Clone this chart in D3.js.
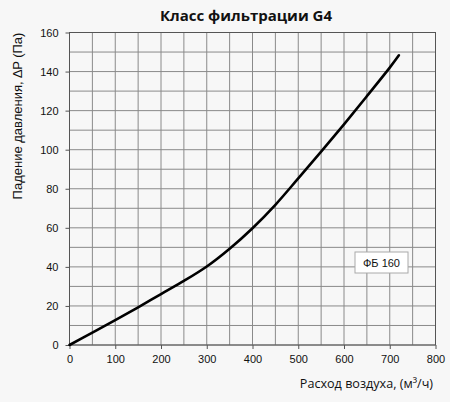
<!DOCTYPE html>
<html><head><meta charset="utf-8">
<script src="https://cdn.jsdelivr.net/npm/d3@7"></script>
<style>body{margin:0;background:#f7f7f7;}svg{display:block;}</style>
</head><body>
<script>
const flow = [0, 50, 100, 150, 200, 250, 300, 350, 400, 450, 500, 550, 600, 650, 700, 720];
const pressure = [0, 6.3, 12.7, 19.3, 26.1, 32.8, 40.2, 49.3, 59.8, 71.8, 85.3, 99, 113, 127.4, 142, 148.3];
const xTicks = [0, 100, 200, 300, 400, 500, 600, 700, 800];
const yTicks = [0, 20, 40, 60, 80, 100, 120, 140, 160];
const xGrid = d3.range(0, 801, 50);
const yGrid = d3.range(0, 161, 10);
const title = "Класс фильтрации G4";
const xTitle = "Расход воздуха, (м³/ч)";
const yTitle = "Падение давления, ∆P (Па)";
const legendLabel = "ФБ 160";

const W = 450, H = 402;
const m = {left: 69.5, right: 435.5, top: 32.5, bottom: 345};
const svg = d3.select("body").append("svg").attr("width", W).attr("height", H);
svg.append("rect").attr("width", W).attr("height", H).attr("fill", "#f7f7f7");

const x = d3.scaleLinear().domain([0, 800]).range([m.left, m.right]);
const y = d3.scaleLinear().domain([0, 160]).range([m.bottom, m.top]);

const g = svg.append("g");
g.selectAll(".vg").data(xGrid).join("line")
  .attr("x1", d => x(d)).attr("x2", d => x(d)).attr("y1", m.top).attr("y2", m.bottom)
  .attr("stroke", "#8a8a8a").attr("stroke-width", 1);
g.selectAll(".hg").data(yGrid).join("line")
  .attr("y1", d => y(d)).attr("y2", d => y(d)).attr("x1", m.left).attr("x2", m.right)
  .attr("stroke", "#8a8a8a").attr("stroke-width", 1);
g.append("rect").attr("x", m.left).attr("y", m.top).attr("width", m.right - m.left).attr("height", m.bottom - m.top)
  .attr("fill", "none").attr("stroke", "#555").attr("stroke-width", 1);

const xAxis = svg.append("g").attr("transform", `translate(0,${m.bottom})`)
  .call(d3.axisBottom(x).tickValues(xTicks).tickSize(4).tickPadding(6).tickFormat(d3.format("d")));
const yAxis = svg.append("g").attr("transform", `translate(${m.left},0)`)
  .call(d3.axisLeft(y).tickValues(yTicks).tickSize(4).tickPadding(7).tickFormat(d3.format("d")));
[xAxis, yAxis].forEach(a => {
  a.select(".domain").remove();
  a.selectAll("line").attr("stroke", "#555");
  a.selectAll("text").attr("fill", "#111").style("font-family", "Liberation Sans, Arial, sans-serif").style("font-size", "11px");
});

const line = d3.line().x((d, i) => x(flow[i])).y(d => y(d)).curve(d3.curveCatmullRom.alpha(0.5));
svg.append("path").datum(pressure).attr("d", line)
  .attr("fill", "none").attr("stroke", "#000").attr("stroke-width", 2.6).attr("stroke-linecap", "round");

svg.append("text").attr("x", 246).attr("y", 21).attr("text-anchor", "middle")
  .style("font-family", "Open Sans, sans-serif").style("font-weight", "bold").style("font-size", "15px")
  .attr("fill", "#111").text(title);
svg.append("text").attr("x", 433).attr("y", 388).attr("text-anchor", "end")
  .style("font-family", "Open Sans, sans-serif").style("font-size", "12.6px").attr("fill", "#111").text(xTitle);
svg.append("text").attr("transform", `translate(22,116) rotate(-90)`).attr("text-anchor", "middle")
  .style("font-family", "Liberation Sans, Arial, sans-serif").style("font-size", "13px").attr("fill", "#111").text(yTitle);

const lg = svg.append("g").attr("transform", "translate(355,252)");
lg.append("rect").attr("width", 53).attr("height", 21).attr("fill", "#fff").attr("stroke", "#aaa").attr("stroke-width", 1);
lg.append("text").attr("x", 26.5).attr("y", 14.5).attr("text-anchor", "middle")
  .style("font-family", "Liberation Sans, Arial, sans-serif").style("font-size", "11px").attr("fill", "#111").text(legendLabel);
</script>
</body></html>
